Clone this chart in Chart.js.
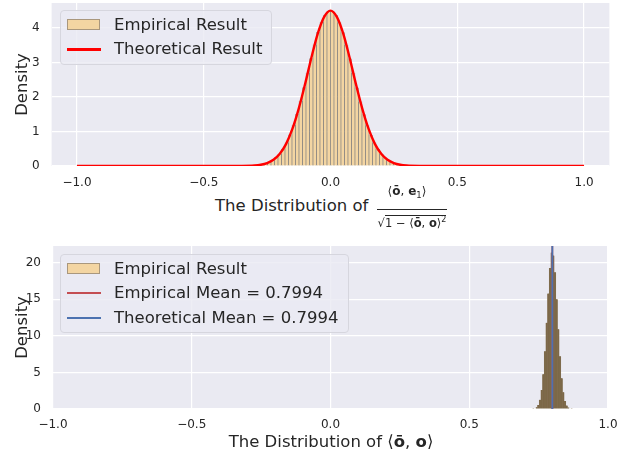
<!DOCTYPE html>
<html>
<head>
<meta charset="utf-8">
<script src="https://cdn.jsdelivr.net/npm/chart.js@4.4.0/dist/chart.umd.min.js"></script>
<style>
  body { margin: 0; background: #fff; font-family: "DejaVu Sans", sans-serif; color: #262626; }
  #wrap { position: relative; width: 618px; height: 455px; overflow: hidden; }
  canvas { position: absolute; left: 0; }
  .lbl { position: absolute; font-size: 16.5px; line-height: 20px; white-space: nowrap; }
  .legend { position: absolute; background: rgba(234,234,242,0.8); border: 1px solid #d6d6de; border-radius: 4px; }
  .row { position: absolute; left: 0; height: 22px; }
  .row .txt { position: absolute; left: 53px; top: 0; font-size: 16.5px; line-height: 22px; white-space: nowrap; }
  .patch { position: absolute; left: 6px; top: 5px; width: 33px; height: 11px; box-sizing: border-box;
           background: rgb(243,213,162); border: 1px solid rgba(120,110,100,0.6); }
  .ln { position: absolute; left: 6px; width: 34px; }
  .frac { position: absolute; line-height: 13px; text-align: center; white-space: nowrap; }
</style>
</head>
<body>
<div id="wrap">
  <canvas id="topChart" width="618" height="195" style="top:0"></canvas>
  <canvas id="botChart" width="618" height="205" style="top:230px"></canvas>

  <!-- top legend -->
  <div class="legend" style="left:60px; top:10px; width:210px; height:53px;">
    <div class="row" style="top:3px;"><div class="patch"></div><div class="txt">Empirical Result</div></div>
    <div class="row" style="top:27px;"><div class="ln" style="top:10px; height:2.5px; background:#ff0000;"></div><div class="txt">Theoretical Result</div></div>
  </div>

  <!-- top x label -->
  <div class="lbl" style="left:215px; top:196px;">The Distribution of</div>
  <div class="frac" style="left:367px; top:185px; width:80px; font-size:12px;">⟨<b>ō</b>, <b>e</b><sub style="font-size:8.5px">1</sub>⟩</div>
  <div style="position:absolute; left:377px; top:209px; width:70px; height:1px; background:#262626;"></div>
  <div class="frac" style="left:372px; top:213px; width:80px; font-size:11.5px;">√<span style="border-top:1px solid #262626;">1 − ⟨<b>ō</b>, <b>o</b>⟩<sup style="font-size:8px">2</sup></span></div>

  <!-- bottom legend -->
  <div class="legend" style="left:60px; top:254px; width:287px; height:77px;">
    <div class="row" style="top:3px;"><div class="patch"></div><div class="txt">Empirical Result</div></div>
    <div class="row" style="top:27px;"><div class="ln" style="top:10px; height:1.6px; background:#c44e52;"></div><div class="txt">Empirical Mean = 0.7994</div></div>
    <div class="row" style="top:52px;"><div class="ln" style="top:10px; height:1.6px; background:#4c72b0;"></div><div class="txt">Theoretical Mean = 0.7994</div></div>
  </div>

  <!-- bottom x label -->
  <div class="lbl" style="left:0; width:662px; text-align:center; top:432px;">The Distribution of ⟨<b>ō</b>, <b>o</b>⟩</div>
</div>

<script>
// ---- data ----
const topBinCenters = [
  -0.3381, -0.3243, -0.3105, -0.2967, -0.2829, -0.2691, -0.2553, -0.2415, -0.2277, -0.2139,
  -0.2001, -0.1863, -0.1725, -0.1587, -0.1449, -0.1311, -0.1173, -0.1035, -0.0897, -0.0759,
  -0.0621, -0.0483, -0.0345, -0.0207, -0.0069, 0.0069, 0.0207, 0.0345, 0.0483, 0.0621,
  0.0759, 0.0897, 0.1035, 0.1173, 0.1311, 0.1449, 0.1587, 0.1725, 0.1863, 0.2001,
  0.2139, 0.2277, 0.2415, 0.2553, 0.2691, 0.2829, 0.2967, 0.3105, 0.3243, 0.3381
];
const topBinDensity = [
  0.003, 0.006, 0.010, 0.017, 0.028, 0.046, 0.072, 0.11, 0.17, 0.25,
  0.35, 0.50, 0.68, 0.91, 1.19, 1.51, 1.88, 2.28, 2.70, 3.12,
  3.52, 3.88, 4.17, 4.38, 4.49, 4.48, 4.37, 4.16, 3.87, 3.51,
  3.11, 2.69, 2.27, 1.87, 1.50, 1.18, 0.90, 0.68, 0.49, 0.35,
  0.24, 0.17, 0.11, 0.071, 0.045, 0.027, 0.016, 0.010, 0.006, 0.003
];
const theoryX = [-1.0, -0.4, -0.35, -0.3, -0.275, -0.25, -0.225, -0.2, -0.175, -0.15, -0.125, -0.1, -0.075, -0.05, -0.025, 0,
  0.025, 0.05, 0.075, 0.1, 0.125, 0.15, 0.175, 0.2, 0.225, 0.25, 0.275, 0.3, 0.35, 0.4, 1.0];
const theoryY = [0, 0.0003, 0.002, 0.015, 0.037, 0.085, 0.18, 0.355, 0.64, 1.08, 1.67, 2.38, 3.15, 3.84, 4.32, 4.5,
  4.32, 3.84, 3.15, 2.38, 1.67, 1.08, 0.64, 0.355, 0.18, 0.085, 0.037, 0.015, 0.002, 0.0003, 0];

const botBinCenters = [
  0.731, 0.737, 0.743, 0.749, 0.755, 0.761, 0.767, 0.773, 0.779, 0.785, 0.791, 0.797,
  0.803, 0.809, 0.815, 0.821, 0.827, 0.833, 0.839, 0.845, 0.851, 0.857, 0.863, 0.869
];
const botBinDensity = [
  0.03, 0.08, 0.23, 0.56, 1.27, 2.6, 4.75, 7.9, 11.8, 15.8, 19.3, 21.4,
  21.0, 18.7, 15.0, 10.9, 7.2, 4.2, 2.3, 1.1, 0.47, 0.19, 0.07, 0.02
];
const empiricalMean = 0.7994;
const theoreticalMean = 0.7994;

const topXTicks = [-1.0, -0.5, 0.0, 0.5, 1.0];
const topYTicks = [0, 1, 2, 3, 4];
const botXTicks = [-1.0, -0.5, 0.0, 0.5, 1.0];
const botYTicks = [0, 5, 10, 15, 20];

// ---- helpers ----
const ink = '#262626';
const tickFont = { family: 'DejaVu Sans', size: 12 };
const fmt = v => (v < 0 ? '\u2212' : '') + Math.abs(v).toFixed(1);
const pts = (xs, ys) => xs.map((x, i) => ({ x: x, y: ys[i] }));

const plotBg = {
  id: 'plotBg',
  beforeDraw(chart) {
    const { ctx, chartArea: a } = chart;
    ctx.save();
    ctx.fillStyle = '#eaeaf2';
    ctx.fillRect(a.left, a.top, a.right - a.left, a.bottom - a.top);
    ctx.restore();
  }
};

function axes(o) {
  return {
    x: {
      type: 'linear', min: o.xmin, max: o.xmax, offset: false,
      afterBuildTicks: s => { s.ticks = o.xticks.map(v => ({ value: v })); },
      afterFit: s => { s.height = o.xh; s.paddingLeft = 0; s.paddingRight = 0; },
      grid: { color: '#ffffff', lineWidth: 1.2, drawTicks: false, offset: false },
      border: { display: false },
      ticks: { font: tickFont, color: ink, padding: o.xpad, maxRotation: 0, autoSkip: false, callback: v => fmt(v) }
    },
    y: {
      type: 'linear', min: 0, max: o.ymax,
      afterBuildTicks: s => { s.ticks = o.yticks.map(v => ({ value: v })); },
      afterFit: s => { s.width = o.yw; s.paddingTop = 0; s.paddingBottom = 0; },
      grid: { color: '#ffffff', lineWidth: 1.2, drawTicks: false },
      border: { display: false },
      ticks: { font: tickFont, color: ink, padding: 12, callback: v => String(v) },
      title: { display: true, text: 'Density', color: ink, font: { family: 'DejaVu Sans', size: 16.5 }, padding: { top: 13, bottom: 0 } }
    }
  };
}

const common = {
  responsive: false,
  animation: false,
  devicePixelRatio: 1,
  plugins: { legend: { display: false }, tooltip: { enabled: false } }
};

// ---- top chart ----
new Chart(document.getElementById('topChart'), {
  data: {
    datasets: [
      {
        type: 'line', label: 'Theoretical Result',
        data: pts(theoryX, theoryY),
        borderColor: '#ff0000', borderWidth: 2.4, pointRadius: 0,
        cubicInterpolationMode: 'monotone', order: 0
      },
      {
        type: 'bar', label: 'Empirical Result',
        data: pts(topBinCenters, topBinDensity),
        backgroundColor: 'rgb(243,213,162)',
        borderColor: 'rgba(70,65,60,0.55)', borderWidth: { left: 0.7, right: 0.7, top: 0, bottom: 0 },
        borderSkipped: false,
        barPercentage: 1, categoryPercentage: 1, order: 1
      }
    ]
  },
  options: Object.assign({}, common, {
    layout: { padding: { top: 3, right: 8.6, left: 0, bottom: 0 } },
    scales: axes({ xmin: -1.1, xmax: 1.1, xticks: topXTicks, yticks: topYTicks, ymax: 4.72, xh: 29, yw: 51.6, xpad: 10 })
  }),
  plugins: [plotBg]
});

// ---- bottom chart ----
new Chart(document.getElementById('botChart'), {
  data: {
    datasets: [
      {
        type: 'line', label: 'Theoretical Mean',
        data: [{ x: theoreticalMean, y: 0 }, { x: theoreticalMean, y: 22.3 }],
        borderColor: '#4c72b0', borderWidth: 1.8, pointRadius: 0, order: 0
      },
      {
        type: 'line', label: 'Empirical Mean',
        data: [{ x: empiricalMean, y: 0 }, { x: empiricalMean, y: 22.3 }],
        borderColor: '#c44e52', borderWidth: 1.8, pointRadius: 0, order: 1
      },
      {
        type: 'bar', label: 'Empirical Result',
        data: pts(botBinCenters, botBinDensity),
        backgroundColor: 'rgb(124,104,72)',
        borderColor: 'rgb(124,104,72)', borderWidth: { left: 0.4, right: 0.4, top: 0, bottom: 0 },
        borderSkipped: false,
        barPercentage: 1, categoryPercentage: 1, order: 2
      }
    ]
  },
  options: Object.assign({}, common, {
    layout: { padding: { top: 16, right: 10, left: 0, bottom: 0 } },
    scales: axes({ xmin: -1.0, xmax: 1.0, xticks: botXTicks, yticks: botYTicks, ymax: 22.3, xh: 26, yw: 53, xpad: 9 })
  }),
  plugins: [plotBg]
});
</script>
</body>
</html>
